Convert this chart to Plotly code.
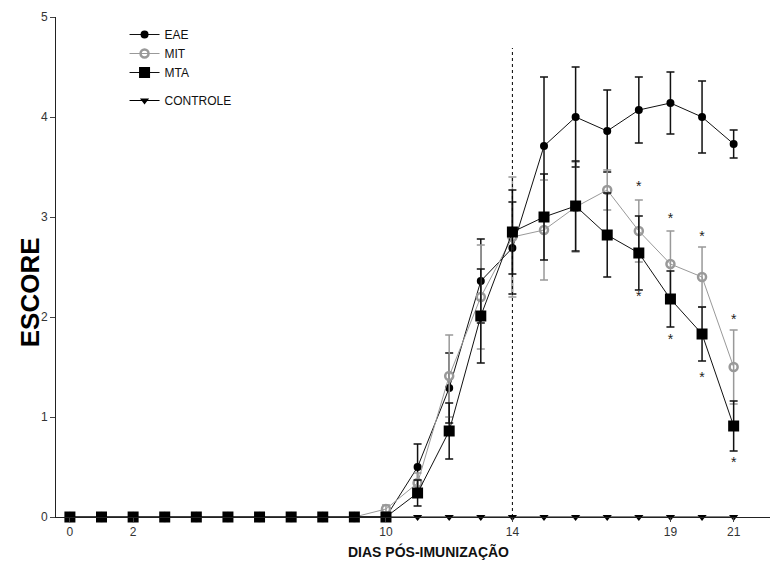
import plotly.graph_objects as go

days = list(range(22))

eae_mean = [0]*10 + [0.0, 0.50, 1.29, 2.36, 2.69, 3.71, 4.00, 3.86, 4.07, 4.14, 4.00, 3.73]
eae_err  = [0]*10 + [0.0, 0.23, 0.35, 0.42, 0.46, 0.69, 0.50, 0.41, 0.33, 0.31, 0.36, 0.14]

mit_mean = [0]*10 + [0.08, 0.34, 1.41, 2.20, 2.80, 2.87, 3.10, 3.27, 2.86, 2.53, 2.40, 1.50]
mit_err  = [0]*10 + [0.04, 0.10, 0.41, 0.52, 0.60, 0.50, 0.45, 0.20, 0.31, 0.33, 0.30, 0.37]

mta_mean = [0]*10 + [0.0, 0.24, 0.86, 2.01, 2.85, 3.00, 3.11, 2.82, 2.64, 2.18, 1.83, 0.91]
mta_err  = [0]*10 + [0.0, 0.13, 0.28, 0.47, 0.42, 0.43, 0.45, 0.42, 0.37, 0.28, 0.27, 0.25]

ctrl_mean = [0]*22

star_x = [18, 18, 19, 19, 20, 20, 21, 21]
star_y = [3.30, 2.20, 2.98, 1.77, 2.80, 1.39, 1.97, 0.54]

x_tickvals = [0, 2, 10, 14, 19, 21]
y_tickvals = [0, 1, 2, 3, 4, 5]
ref_day = 14
ref_top = 4.69

fig = go.Figure()

fig.add_trace(go.Scatter(
    x=days, y=ctrl_mean, name="CONTROLE", mode="lines+markers", cliponaxis=False,
    line=dict(color="black", width=1),
    marker=dict(symbol="triangle-down", size=8, color="black"),
    legendgroup="b", legendrank=4))

fig.add_trace(go.Scatter(
    x=days, y=eae_mean, name="EAE", mode="lines+markers", cliponaxis=False,
    line=dict(color="#111", width=1),
    marker=dict(symbol="circle", size=8, color="black"),
    error_y=dict(type="data", array=eae_err, color="#111", thickness=1.5, width=4),
    legendgroup="a", legendrank=1))

fig.add_trace(go.Scatter(
    x=days, y=mit_mean, name="MIT", mode="lines+markers", cliponaxis=False,
    line=dict(color="#999", width=1),
    marker=dict(symbol="circle-open", size=8, color="#999", line=dict(width=2.5)),
    error_y=dict(type="data", array=mit_err, color="#999", thickness=1.5, width=4),
    legendgroup="a", legendrank=2))

fig.add_trace(go.Scatter(
    x=days, y=mta_mean, name="MTA", mode="lines+markers", cliponaxis=False,
    line=dict(color="#111", width=1),
    marker=dict(symbol="square", size=11, color="black"),
    error_y=dict(type="data", array=mta_err, color="#111", thickness=1.5, width=4),
    legendgroup="a", legendrank=3))

fig.add_trace(go.Scatter(
    x=star_x, y=star_y, mode="text", text=["*"]*len(star_x),
    textfont=dict(size=14, color="#222", family="Liberation Sans"),
    showlegend=False, hoverinfo="skip"))

fig.add_shape(type="line", x0=ref_day, x1=ref_day, y0=0, y1=ref_top,
              xref="x", yref="y", line=dict(color="black", width=1, dash="dot"))

fig.update_layout(
    width=771, height=566,
    margin=dict(l=56, r=1, t=17, b=49),
    plot_bgcolor="white", paper_bgcolor="white",
    font=dict(family="Liberation Sans, Arial, sans-serif", color="#222", size=12),
    showlegend=True,
    legend=dict(x=0.096, y=0.994, xanchor="left", yanchor="top",
                bgcolor="rgba(0,0,0,0)", font=dict(size=12, color="#111"),
                traceorder="grouped", tracegroupgap=9, itemwidth=30),
    xaxis=dict(range=[-0.44, 22.15], tickvals=x_tickvals, ticks="outside", ticklen=4,
               showline=True, linecolor="#222", linewidth=1, showgrid=False,
               zeroline=False, tickfont=dict(size=12, color="#333")),
    yaxis=dict(range=[0, 5], tickvals=y_tickvals, ticks="outside", ticklen=5,
               showline=True, linecolor="#222", linewidth=1, showgrid=False,
               zeroline=False, tickfont=dict(size=12, color="#333")),
    annotations=[
        dict(text="<b>DIAS PÓS-IMUNIZAÇÃO</b>", x=0.522, y=-0.068, xref="paper", yref="paper",
             xanchor="center", yanchor="middle", showarrow=False,
             font=dict(size=14, color="#111", family="Liberation Sans Narrow, Liberation Sans, Arial")),
        dict(text="<b>ESCORE</b>", x=-0.036, y=0.45, xref="paper", yref="paper",
             xanchor="center", yanchor="middle", showarrow=False, textangle=-90,
             font=dict(size=26, color="#000", family="Liberation Sans, Arial")),
    ],
)

fig.write_html("out.html")
